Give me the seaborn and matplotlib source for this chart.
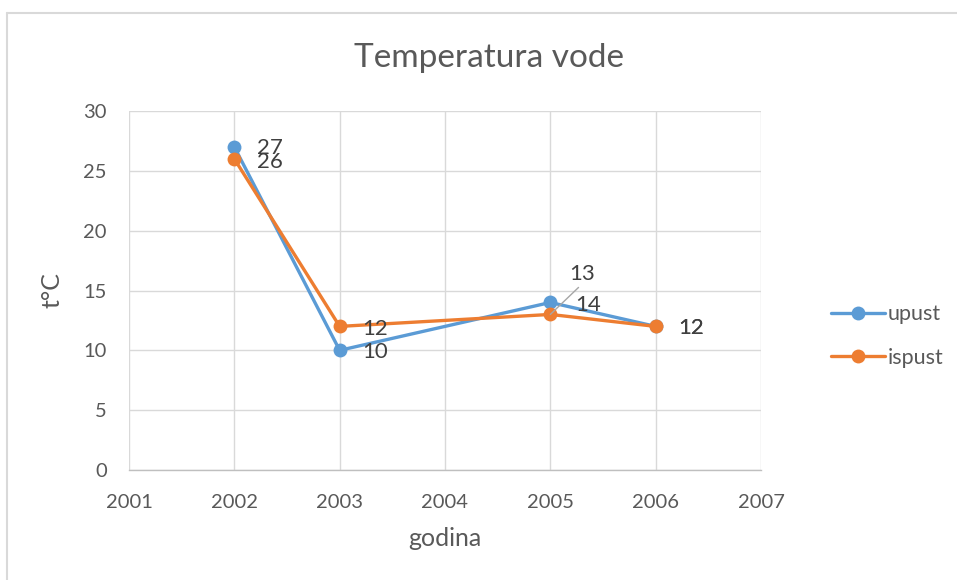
import matplotlib
matplotlib.use("Agg")
import matplotlib.pyplot as plt
import seaborn as sns
import pandas as pd
from matplotlib.lines import Line2D

years = [2002, 2003, 2005, 2006]
upust = [27, 10, 14, 12]
ispust = [26, 12, 13, 12]
series_names = ["upust", "ispust"]
colors = ["#5B9BD5", "#ED7D31"]

df = pd.concat([
    pd.DataFrame({"godina": years, "t": upust, "serija": "upust"}),
    pd.DataFrame({"godina": years, "t": ispust, "serija": "ispust"}),
])

sns.set_theme(style="white")
plt.rcParams['font.family'] = ['Lato', 'DejaVu Sans']
TXT = "#595959"

fig = plt.figure(figsize=(9.57, 5.8), dpi=100)
ax = fig.add_axes([129/957, 110/580, (761-129)/957, (470-111)/580])

sns.lineplot(data=df, x="godina", y="t", hue="serija", hue_order=series_names,
             palette=colors, marker="o", markersize=10, markeredgewidth=0,
             linewidth=2.4, ax=ax, legend=False, sort=False)

ax.set_xlim(2001, 2007)
ax.set_ylim(0, 30)
ax.set_xticks(range(2001, 2008))
ax.set_yticks(range(0, 31, 5))
ax.grid(True, color="#D9D9D9", linewidth=1)
ax.set_axisbelow(True)
for s in ["top", "right", "left"]:
    ax.spines[s].set_visible(False)
ax.spines["bottom"].set_color("#BFBFBF")
ax.spines["bottom"].set_linewidth(1)
ax.tick_params(axis="both", colors=TXT, labelsize=14.5, length=0)
ax.tick_params(axis="x", pad=17)
ax.tick_params(axis="y", pad=16)
ax.set_xlabel("godina", color=TXT, fontsize=18, labelpad=12)
ax.set_ylabel("t°C", color=TXT, fontsize=18, labelpad=14)

# data labels
lab_kw = dict(color="#404040", fontsize=16, va="center", ha="left")
for x, y in zip(years, upust):
    if x == 2005:
        continue
    ax.annotate(str(y), (x, y), xytext=(16, -1), textcoords="offset points", **lab_kw)
for x, y in zip(years, ispust):
    if x == 2005:
        continue
    dy = -1 if x == 2006 else -2.2
    ax.annotate(str(y), (x, y), xytext=(16, dy), textcoords="offset points", **lab_kw)
# 2005 labels
ax.annotate(str(upust[2]), (2005, upust[2]), xytext=(18, -2), textcoords="offset points", **lab_kw)
ax.annotate(str(ispust[2]), (2005, ispust[2]), xytext=(13.5, 29), textcoords="offset points",
            arrowprops=dict(arrowstyle="-", color="#A6A6A6", lw=1, shrinkA=0, shrinkB=0,
                            relpos=(0.5, 0)),
            **lab_kw)

# legend
handles = [Line2D([0], [0], color=c, marker="o", markersize=10, linewidth=2.4, markeredgewidth=0)
           for c in colors]
fig.legend(handles, series_names, loc="center left", bbox_to_anchor=(812/957, 1 - 336/580),
           frameon=False, fontsize=15.5, labelcolor=TXT, handlelength=2.5, handletextpad=0.1,
           labelspacing=1.1)

fig.text(489/957, 1 - 58/580, "Temperatura vode", ha="center", va="center",
         fontsize=24, color=TXT)

# chart border
fig.add_artist(Line2D([7.5/957, 1], [1 - 12.5/580, 1 - 12.5/580], color="#D9D9D9", lw=1.5,
                      transform=fig.transFigure))
fig.add_artist(Line2D([7.5/957, 7.5/957], [0, 1 - 12.5/580], color="#D9D9D9", lw=1.5,
                      transform=fig.transFigure))

fig.savefig("out.png", dpi=100)
